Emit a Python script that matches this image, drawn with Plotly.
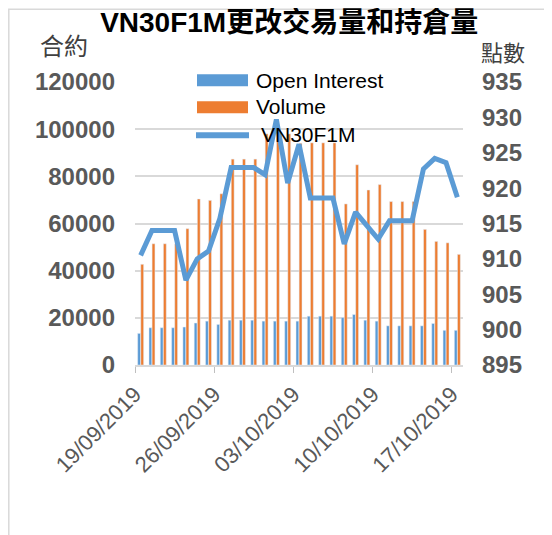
import plotly.graph_objects as go

dates = ["2019-09-19", "2019-09-20", "2019-09-21", "2019-09-22", "2019-09-23", "2019-09-24",
         "2019-09-25", "2019-09-26", "2019-09-27", "2019-09-28", "2019-09-29", "2019-09-30",
         "2019-10-01", "2019-10-02", "2019-10-03", "2019-10-04", "2019-10-05", "2019-10-06",
         "2019-10-07", "2019-10-08", "2019-10-09", "2019-10-10", "2019-10-11", "2019-10-12",
         "2019-10-13", "2019-10-14", "2019-10-15", "2019-10-16", "2019-10-17"]

open_interest = [13400, 15800, 15800, 15800, 16100, 17800, 18600, 17200, 19000, 19000,
                 19000, 18600, 18600, 18600, 18600, 20700, 20700, 20700, 20100, 21400,
                 19000, 18600, 16600, 16600, 16600, 16600, 17600, 14700, 14700]

volume = [42700, 51400, 51400, 51400, 57800, 70400, 69800, 72600, 87300, 87300,
          87300, 98000, 100000, 98000, 94000, 94200, 94200, 94200, 68300, 84900,
          74200, 76500, 69300, 69300, 69300, 57500, 52400, 51800, 46900]

vn30f1m = [910.5, 914.0, 914.0, 914.0, 907.0, 910.0, 911.1, 915.7, 922.9, 922.9,
           922.9, 921.9, 929.7, 920.7, 926.2, 918.6, 918.6, 918.6, 912.1, 916.6,
           914.7, 912.8, 915.4, 915.4, 915.4, 922.7, 924.2, 923.6, 918.7]

BLUE = "#5b9bd5"
ORANGE = "#ed7d31"
GREY = "#595959"
FONT = "Liberation Sans, Arial, Noto Sans CJK TC"
DAY = 86400000

# page has an 8px body margin, so the figure is 8px smaller and shifted
W, H = 544, 527

fig = go.Figure()
fig.add_trace(go.Bar(x=dates, y=open_interest, name="Open Interest", marker_color=BLUE,
                     xperiod=DAY, xperiodalignment="middle"))
fig.add_trace(go.Bar(x=dates, y=volume, name="Volume", marker_color=ORANGE,
                     xperiod=DAY, xperiodalignment="middle"))
fig.add_trace(go.Scatter(x=dates, y=vn30f1m, name="VN30F1M", yaxis="y2", mode="lines",
                         line=dict(color=BLUE, width=5),
                         xperiod=DAY, xperiodalignment="middle"))

fig.update_layout(
    width=W, height=H,
    margin=dict(l=127, r=89, t=74, b=170),
    paper_bgcolor="white", plot_bgcolor="white",
    showlegend=False,
    barmode="group", bargap=0.45, bargroupgap=0.08,
    font=dict(family=FONT),
    title=dict(text="<b>VN30F1M更改交易量和持倉量</b>", x=0.47, xref="paper",
               y=1 - 14 / H, yanchor="middle",
               font=dict(size=28, color="black", family=FONT)),
    xaxis=dict(type="date", range=["2019-09-19", "2019-10-18"], automargin=False,
               tick0="2019-09-19", dtick=7 * DAY, tickformat="%d/%m/%Y",
               tickangle=-45, ticks="outside", ticklen=6, tickcolor="#bfbfbf",
               showline=True, linecolor="#d9d9d9", linewidth=1.5, showgrid=False,
               tickfont=dict(size=22, color=GREY)),
    yaxis=dict(range=[0, 120000], dtick=20000, tickformat="d", automargin=False,
               showgrid=True, gridcolor="#d9d9d9",
               gridwidth=1.5, zeroline=False, showline=False, ticklabelstandoff=19,
               tickfont=dict(size=24, color=GREY, weight="bold")),
    yaxis2=dict(range=[895, 935], dtick=5, overlaying="y", side="right", showgrid=False,
                automargin=False,
                zeroline=False, showline=False, ticklabelstandoff=18,
                tickfont=dict(size=24, color=GREY, weight="bold")),
)

def px_x(v):
    return (v - 135) / 328

def px_y(v):
    return (365 - v) / 283.3

# chart border (left and top edges visible)
fig.add_shape(type="rect", xref="paper", yref="paper", x0=px_x(8.8), x1=px_x(570),
              y0=px_y(545), y1=px_y(8.8), line=dict(color="#d9d9d9", width=1.5))

# custom legend
fig.add_shape(type="rect", xref="paper", yref="paper", x0=px_x(197), x1=px_x(248),
              y0=px_y(86), y1=px_y(74), fillcolor=BLUE, line_width=0)
fig.add_shape(type="rect", xref="paper", yref="paper", x0=px_x(197), x1=px_x(248),
              y0=px_y(113), y1=px_y(101), fillcolor=ORANGE, line_width=0)
fig.add_shape(type="line", xref="paper", yref="paper", x0=px_x(196), x1=px_x(249),
              y0=px_y(135), y1=px_y(135), line=dict(color=BLUE, width=6))
for label, lx, ly in [("Open Interest", 254, 80), ("Volume", 254, 106), ("VN30F1M", 259, 134)]:
    fig.add_annotation(text=label, xref="paper", yref="paper", x=px_x(lx), y=px_y(ly),
                       xanchor="left", yanchor="middle", showarrow=False,
                       font=dict(size=21, color="black", family=FONT))

# axis titles
fig.add_annotation(text="合約", xref="paper", yref="paper", x=px_x(64), y=px_y(46),
                   xanchor="center", yanchor="middle", showarrow=False,
                   font=dict(size=24, color="#404040", family=FONT))
fig.add_annotation(text="點數", xref="paper", yref="paper", x=px_x(503), y=px_y(53),
                   xanchor="center", yanchor="middle", showarrow=False,
                   font=dict(size=22, color="#404040", family=FONT))

fig.write_html("out.html")
